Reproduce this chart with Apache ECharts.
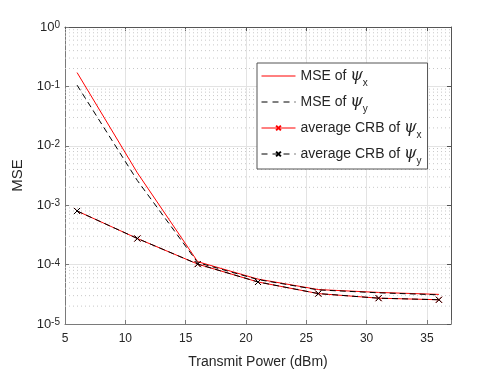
<!DOCTYPE html>
<html>
<head>
<meta charset="utf-8">
<script src="https://cdn.jsdelivr.net/npm/echarts@6/dist/echarts.min.js"></script>
<style>html,body{margin:0;padding:0;background:#fff}#c{width:498px;height:374px}</style>
</head>
<body>
<div id="c"></div>
<script>
var power = [6, 11, 16, 21, 26, 31, 36];
var mseX = [0.171, 3.5e-3, 1.12e-4, 5.7e-5, 3.8e-5, 3.4e-5, 3.15e-5];
var mseY = [0.105, 2.6e-3, 1.08e-4, 5.6e-5, 3.75e-5, 3.35e-5, 3.1e-5];
var crbX = [8.0e-4, 2.75e-4, 1.02e-4, 5.1e-5, 3.25e-5, 2.72e-5, 2.56e-5];
var crbY = [8.0e-4, 2.75e-4, 1.02e-4, 5.1e-5, 3.25e-5, 2.72e-5, 2.56e-5];
var xTicks = [5, 10, 15, 20, 25, 30, 35];
var seriesNames = ['MSE of ψx', 'MSE of ψy', 'average CRB of ψx', 'average CRB of ψy'];

var minorVals = [];
for (var k = -5; k < 0; k++) { for (var m = 2; m <= 9; m++) { minorVals.push(m * Math.pow(10, k)); } }

var FONT = '"Liberation Sans", Arial, sans-serif';
var TXT = '#262626';
var AX = '#7a7a7a';
var xSym = 'path://M0,0L10,10M10,0L0,10';
var X_MIN = 5, X_MAX = 37;

function pairs(ys) { return power.map(function (p, i) { return [p, ys[i]]; }); }

var minorSeries = minorVals.map(function (v) {
  return {
    name: 'minor' + v, type: 'line', data: [[X_MIN, v], [X_MAX, v]], z: 1, silent: true,
    symbol: 'none', showSymbol: false, tooltip: {show: false},
    lineStyle: {type: [1, 3], color: '#c8c8c8', width: 1},
    emphasis: {disabled: true}
  };
});

var chart = echarts.init(document.getElementById('c'), null, {renderer: 'canvas'});
chart.setOption({
  animation: false,
  textStyle: {fontFamily: FONT},
  grid: {left: 65, right: 47, top: 27, bottom: 47},
  legend: {
    data: [
      {name: seriesNames[0], itemStyle: {opacity: 0}, lineStyle: {width: 1}},
      {name: seriesNames[1], itemStyle: {opacity: 0}, lineStyle: {type: [6, 5], width: 1}},
      {name: seriesNames[2], lineStyle: {width: 1}},
      {name: seriesNames[3], lineStyle: {type: [6, 5], width: 1}}
    ],
    orient: 'vertical',
    left: 257, top: 63,
    backgroundColor: '#fff',
    borderColor: '#555', borderWidth: 1,
    padding: [5, 6, 3, 4],
    itemWidth: 34, itemHeight: 6, itemGap: 6,
    textStyle: {
      fontFamily: FONT, fontSize: 14, color: TXT,
      rich: {
        t: {fontSize: 14, color: TXT, fontFamily: FONT},
        psi: {fontSize: 16, fontStyle: 'italic', fontFamily: '"DejaVu Serif", serif', color: TXT},
        sub: {fontSize: 10, color: TXT, fontFamily: FONT, verticalAlign: 'bottom', lineHeight: 24}
      }
    },
    formatter: function (name) {
      var base = name.slice(0, name.length - 2);
      var s = name.slice(-1);
      return '{t|' + base + '}{psi|ψ}{sub|' + s + '}';
    }
  },
  xAxis: [{
    type: 'value', min: X_MIN, max: X_MAX, interval: 5,
    name: 'Transmit Power (dBm)', nameLocation: 'middle', nameGap: 31,
    nameTextStyle: {fontSize: 14, color: TXT, fontFamily: FONT},
    axisLine: {show: true, onZero: false, lineStyle: {color: AX, width: 1}},
    axisTick: {inside: true, length: 4, lineStyle: {color: AX}},
    axisLabel: {fontSize: 12, color: TXT, margin: 9, fontFamily: FONT,
      formatter: function (v) { return xTicks.indexOf(v) >= 0 ? String(v) : ''; }},
    splitLine: {show: true, lineStyle: {color: '#e3e3e3', width: 1}}
  }, {
    type: 'value', min: X_MIN, max: X_MAX, interval: 5, position: 'top',
    axisLine: {show: true, onZero: false, lineStyle: {color: '#555', width: 1}},
    axisTick: {inside: true, length: 4, lineStyle: {color: '#555'}},
    axisLabel: {show: false}, splitLine: {show: false}
  }],
  yAxis: [{
    type: 'log', logBase: 10, min: 1e-5, max: 1, splitNumber: 5,
    name: 'MSE', nameLocation: 'middle', nameGap: 38, nameRotate: 90,
    nameTextStyle: {fontSize: 15, color: TXT, fontFamily: FONT},
    axisLine: {show: true, onZero: false, lineStyle: {color: AX, width: 1}},
    axisTick: {inside: true, length: 4, lineStyle: {color: AX}},
    axisLabel: {
      color: TXT, margin: 5,
      formatter: function (v) { var e = Math.round(Math.log10(v)); return '{b|10}{s|' + e + '}'; },
      rich: {
        b: {fontSize: 13, color: TXT, fontFamily: FONT},
        s: {fontSize: 10, color: TXT, fontFamily: FONT, verticalAlign: 'top', lineHeight: 10}
      }
    },
    splitLine: {show: true, lineStyle: {color: '#e3e3e3', width: 1}}
  }, {
    type: 'log', logBase: 10, min: 1e-5, max: 1, splitNumber: 5, position: 'right',
    axisLine: {show: true, onZero: false, lineStyle: {color: '#555', width: 1}},
    axisTick: {inside: true, length: 4, lineStyle: {color: '#555'}},
    axisLabel: {show: false}, splitLine: {show: false}
  }],
  series: minorSeries.concat([
    {
      name: seriesNames[0], type: 'line', data: pairs(mseX), showSymbol: false, symbol: 'none',
      lineStyle: {color: '#ff0000', width: 1}, itemStyle: {color: '#ff0000'}, z: 3
    },
    {
      name: seriesNames[1], type: 'line', data: pairs(mseY), showSymbol: false, symbol: 'none',
      lineStyle: {color: '#000', width: 1, type: [6, 4]}, itemStyle: {color: '#000'}, z: 4
    },
    {
      name: seriesNames[2], type: 'line', data: pairs(crbX), symbol: xSym, symbolSize: 6,
      lineStyle: {color: '#ff0000', width: 1},
      itemStyle: {color: 'none', borderColor: '#ff0000', borderWidth: 1}, z: 5
    },
    {
      name: seriesNames[3], type: 'line', data: pairs(crbY), symbol: xSym, symbolSize: 6,
      lineStyle: {color: '#000', width: 1, type: [6, 4]},
      itemStyle: {color: 'none', borderColor: '#000', borderWidth: 1}, z: 6
    }
  ])
});
</script>
</body>
</html>
